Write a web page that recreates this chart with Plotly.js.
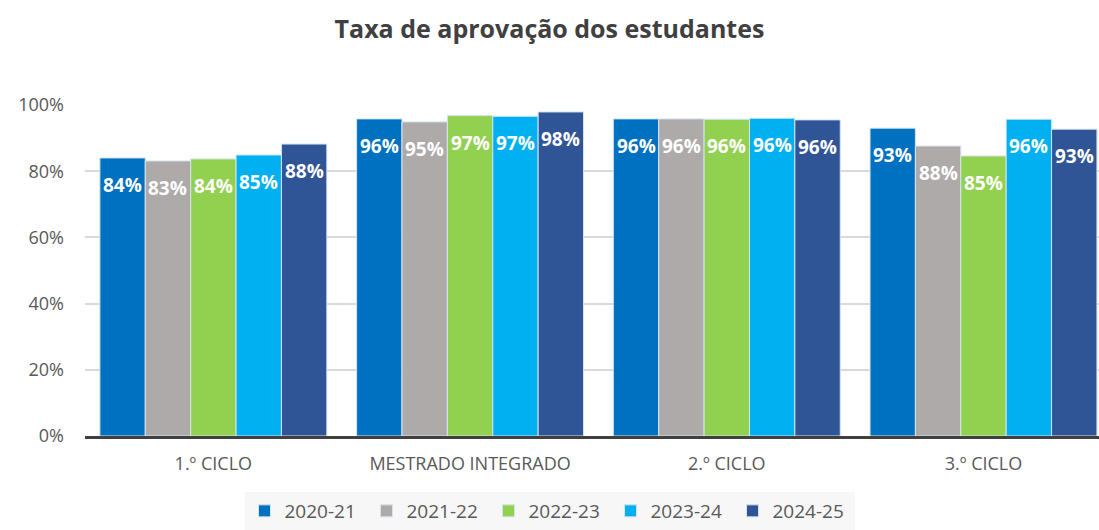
<!DOCTYPE html>
<html>
<head>
<meta charset="utf-8">
<script src="https://cdn.plot.ly/plotly-3.0.1.min.js"></script>
<style>html,body{margin:0;padding:0;background:#fff;}#chart{width:1099px;height:530px;}</style>
</head>
<body>
<div id="chart"></div>
<script>
const categories = ["1.º CICLO", "MESTRADO INTEGRADO", "2.º CICLO", "3.º CICLO"];
const seriesNames = ["2020-21", "2021-22", "2022-23", "2023-24", "2024-25"];
const v2020_21 = [84.0, 95.8, 95.8, 93.0];
const v2021_22 = [83.1, 94.9, 95.8, 87.6];
const v2022_23 = [83.7, 96.8, 95.7, 84.6];
const v2023_24 = [84.9, 96.6, 96.0, 95.7];
const v2024_25 = [88.2, 97.9, 95.5, 92.7];
const seriesValues = [v2020_21, v2021_22, v2022_23, v2023_24, v2024_25];
const colors = ["#0070C0", "#AEAAAA", "#92D050", "#00B0F0", "#2F5597"];

const BARGAP = 0.116;
const FONT = 'Open Sans, sans-serif';

const traces = seriesNames.map((name, i) => ({
  type: 'bar',
  name: name,
  x: categories,
  y: seriesValues[i],
  marker: {color: colors[i], line: {color: '#d6e4f0', width: 1}},
  hoverinfo: 'none'
}));

// data labels, placed at each bar's own group slot (index + group offset)
const nSeries = seriesNames.length;
const slot = (1 - BARGAP) / nSeries;
const annotations = [];
seriesValues.forEach((vals, i) => {
  vals.forEach((v, j) => {
    annotations.push({
      xref: 'x', yref: 'y',
      x: j + (i - (nSeries - 1) / 2) * slot,
      y: v,
      yshift: -27,
      yanchor: 'middle', xanchor: 'center',
      text: Math.round(v) + '%',
      showarrow: false,
      font: {family: FONT, size: 19, color: '#ffffff', weight: 'bold'}
    });
  });
});

const layout = {
  width: 1099, height: 530,
  margin: {l: 85, r: 0, t: 105, b: 94},
  paper_bgcolor: '#ffffff', plot_bgcolor: '#ffffff',
  barmode: 'group', bargap: BARGAP, bargroupgap: 0,
  title: {text: '<b>Taxa de aprovação dos estudantes</b>', x: 0.5, xanchor: 'center', y: 0.945, yanchor: 'middle',
          font: {family: FONT, size: 25, color: '#404040'}},
  xaxis: {type: 'category', range: [-0.5, 3.45], automargin: false, showgrid: false, showline: true, linecolor: '#404040', linewidth: 3,
          ticks: '', ticklabelstandoff: 9, tickfont: {family: FONT, size: 18, color: '#595959'}, fixedrange: true},
  yaxis: {range: [0, 100], automargin: false, tickvals: [0, 20, 40, 60, 80, 100], ticktext: ['0%', '20%', '40%', '60%', '80%', '100%'],
          showgrid: true, gridcolor: '#d9d9d9', gridwidth: 2, zeroline: false, showline: false, ticks: '',
          ticklabelstandoff: 20, tickfont: {family: FONT, size: 18, color: '#595959'}, fixedrange: true},
  annotations: annotations,
  showlegend: true,
  legend: {orientation: 'h', xref: 'container', yref: 'container', x: 0.5, xanchor: 'center', y: -0.026, yanchor: 'bottom',
           bgcolor: '#f7f7f7', entrywidth: 77, entrywidthmode: 'pixels',
           font: {family: FONT, size: 19, color: '#595959'}, itemwidth: 30, tracegroupgap: 0}
};

Plotly.newPlot('chart', traces, layout, {displayModeBar: false, staticPlot: true});
</script>
</body>
</html>
